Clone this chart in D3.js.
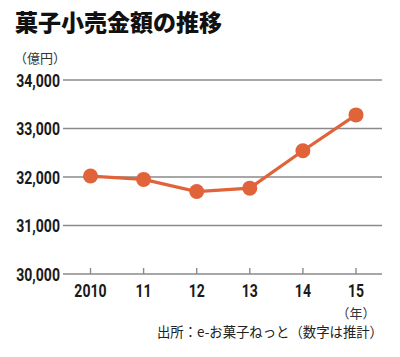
<!DOCTYPE html>
<html><head><meta charset="utf-8">
<script src="https://cdn.jsdelivr.net/npm/d3@7"></script>
<style>
html,body{margin:0;padding:0;background:#fff;}
svg{display:block;}
.num{font-family:Roboto,"DejaVu Sans",sans-serif;font-weight:bold;}
.jp{font-family:"Noto Sans CJK JP",sans-serif;}
</style></head>
<body>
<svg id="c" width="400" height="357"></svg>
<script>
const years = ["2010","11","12","13","14","15"];
const values = [32020, 31950, 31700, 31770, 32540, 33280];
const yTicks = [30000, 31000, 32000, 33000, 34000];

const svg = d3.select("#c");
const x = d3.scalePoint().domain(years).range([90.5, 356]);
const y = d3.scaleLinear().domain([30000, 34000]).range([274, 80]);
const L = 63, R = 382, SX = 0.74;

svg.append("text").attr("class","jp").attr("x",15).attr("y",31)
  .attr("font-size",23).attr("font-weight","900").attr("fill","#111")
  .text("菓子小売金額の推移");
svg.append("text").attr("class","jp").attr("x",14).attr("y",63)
  .attr("font-size",13).attr("fill","#333").text("（億円）");

const grid = svg.append("g");
grid.selectAll("line").data(yTicks).join("line")
  .attr("x1",L).attr("x2",R).attr("y1",d=>y(d)).attr("y2",d=>y(d))
  .attr("stroke","#8a8a8a").attr("stroke-width",1.6);
grid.selectAll("text").data(yTicks).join("text").attr("class","num")
  .attr("transform",d=>`translate(60,${y(d)+6.5}) scale(${SX},1)`).attr("text-anchor","end")
  .attr("font-size",19).attr("fill","#1a1a1a").text(d3.format(",")); 

svg.append("g").selectAll("line").data(years).join("line")
  .attr("x1",d=>x(d)).attr("x2",d=>x(d)).attr("y1",y(30000)-6).attr("y2",y(30000))
  .attr("stroke","#8a8a8a").attr("stroke-width",1.4);
svg.append("g").selectAll("text").data(years).join("text").attr("class","num")
  .attr("transform",d=>`translate(${x(d)},${y(30000)+23}) scale(${SX},1)`).attr("text-anchor","middle")
  .attr("font-size",19).attr("fill","#1a1a1a").text(d=>d);
svg.append("text").attr("class","jp").attr("x",x("15")).attr("y",318)
  .attr("text-anchor","middle").attr("font-size",13).attr("fill","#333").text("（年）");

const line = d3.line().x((d,i)=>x(years[i])).y(d=>y(d));
svg.append("path").datum(values).attr("d",line).attr("fill","none")
  .attr("stroke","#e0633a").attr("stroke-width",3.2);
svg.append("g").selectAll("circle").data(values).join("circle")
  .attr("cx",(d,i)=>x(years[i])).attr("cy",d=>y(d)).attr("r",7.5).attr("fill","#e0633a");

svg.append("text").attr("class","jp").attr("x",383).attr("y",337)
  .attr("text-anchor","end").attr("font-size",14).attr("fill","#222")
  .attr("textLength",226).attr("lengthAdjust","spacingAndGlyphs")
  .text("出所：e-お菓子ねっと（数字は推計）");
</script>
</body></html>
